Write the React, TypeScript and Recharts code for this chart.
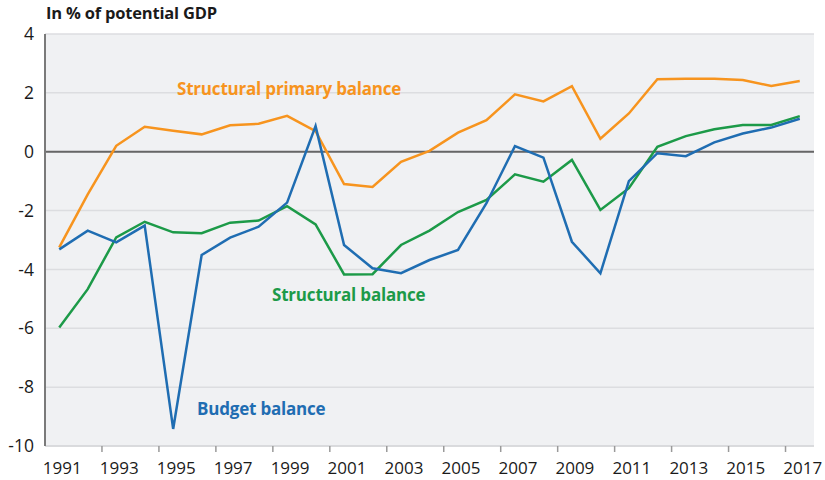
import React from 'react';
import { LineChart, Line, XAxis, YAxis, CartesianGrid, ReferenceLine } from 'recharts';

const years = [
  1991, 1992, 1993, 1994, 1995, 1996, 1997, 1998, 1999, 2000, 2001, 2002, 2003, 2004,
  2005, 2006, 2007, 2008, 2009, 2010, 2011, 2012, 2013, 2014, 2015, 2016, 2017,
];

const structuralPrimary = [
  -3.25, -1.45, 0.2, 0.85, 0.71, 0.59, 0.9, 0.95, 1.22, 0.7, -1.1, -1.2, -0.34, 0.03,
  0.65, 1.07, 1.95, 1.71, 2.23, 0.44, 1.3, 2.46, 2.48, 2.48, 2.44, 2.23, 2.4,
];

const budgetBalance = [
  -3.32, -2.68, -3.08, -2.51, -9.42, -3.51, -2.92, -2.55, -1.73, 0.87, -3.17, -3.96, -4.13, -3.68,
  -3.34, -1.75, 0.19, -0.2, -3.06, -4.13, -1.0, -0.05, -0.15, 0.32, 0.62, 0.82, 1.12,
];

const structuralBalance = [
  -5.97, -4.67, -2.91, -2.38, -2.74, -2.77, -2.41, -2.34, -1.85, -2.47, -4.17, -4.16, -3.17, -2.68,
  -2.05, -1.64, -0.77, -1.02, -0.28, -1.98, -1.24, 0.17, 0.53, 0.76, 0.91, 0.91, 1.21,
];

const yearLabels = [1991, 1993, 1995, 1997, 1999, 2001, 2003, 2005, 2007, 2009, 2011, 2013, 2015, 2017];
const yTicks = [-10, -8, -6, -4, -2, 0, 2, 4];

const data = years.map((year, i) => ({
  year,
  primary: structuralPrimary[i],
  budget: budgetBalance[i],
  structural: structuralBalance[i],
}));

// tick marks sit on the year boundaries, labels on the odd years
const boundaryTicks = yearLabels.slice(1).map((y) => y - 0.5);
const xTicks = [...yearLabels, ...boundaryTicks].sort((a, b) => a - b);

const ORANGE = '#f7941e';
const BLUE = '#1f6db2';
const GREEN = '#1c9a48';
const FONT = '"Open Sans", "DejaVu Sans", sans-serif';

const XTick = (props: any) => {
  const { x, y, payload } = props;
  if (payload.value % 1 !== 0) {
    return <line x1={x} x2={x} y1={y} y2={y + 6} stroke="#9a9a9a" strokeWidth={1.5} />;
  }
  return (
    <text x={x + 3} y={y + 16} dy="0.71em" textAnchor="middle" fontSize={17} fill="#1a1a1a" fontFamily={FONT}>
      {payload.value}
    </text>
  );
};

const labelStyle: React.CSSProperties = {
  position: 'absolute',
  fontFamily: FONT,
  fontWeight: 700,
  fontSize: 17,
  lineHeight: '20px',
  letterSpacing: -0.2,
  whiteSpace: 'nowrap',
};

export default function App() {
  return (
    <div style={{ position: 'absolute', left: 0, top: 0, width: 825, height: 480, background: '#fff' }}>
      <LineChart width={825} height={480} data={data} margin={{ top: 34, right: 11, bottom: 0, left: 0 }}>
        <CartesianGrid vertical={false} fill="#f0f1f3" stroke="#dcdde0" strokeWidth={1.5} />
        <XAxis
          dataKey="year"
          type="number"
          domain={[1990.5, 2017.5]}
          ticks={xTicks}
          interval={0}
          tick={<XTick />}
          tickLine={false}
          tickSize={0}
          tickMargin={0}
          height={34}
          axisLine={{ stroke: '#d6d7da', strokeWidth: 1.5 }}
        />
        <YAxis
          type="number"
          domain={[-10, 4]}
          ticks={yTicks}
          interval={0}
          width={45}
          tickLine={false}
          tickSize={0}
          tickMargin={11}
          axisLine={{ stroke: '#7a7a7a', strokeWidth: 2 }}
          tick={{ fontSize: 17.5, fill: '#1a1a1a', fontFamily: FONT }}
        />
        <ReferenceLine y={0} stroke="#666" strokeWidth={2} />
        <Line dataKey="primary" stroke={ORANGE} strokeWidth={2.5} dot={false} isAnimationActive={false} />
        <Line dataKey="structural" stroke={GREEN} strokeWidth={2.5} dot={false} isAnimationActive={false} />
        <Line dataKey="budget" stroke={BLUE} strokeWidth={2.5} dot={false} isAnimationActive={false} />
      </LineChart>
      <div style={{ ...labelStyle, left: 46, top: 3, fontSize: 16.5, color: '#1a1a1a', letterSpacing: -0.2 }}>
        In % of potential GDP
      </div>
      <div style={{ ...labelStyle, left: 177, top: 79, color: ORANGE }}>Structural primary balance</div>
      <div style={{ ...labelStyle, left: 272, top: 285, color: GREEN }}>Structural balance</div>
      <div style={{ ...labelStyle, left: 197, top: 399, color: BLUE }}>Budget balance</div>
    </div>
  );
}
